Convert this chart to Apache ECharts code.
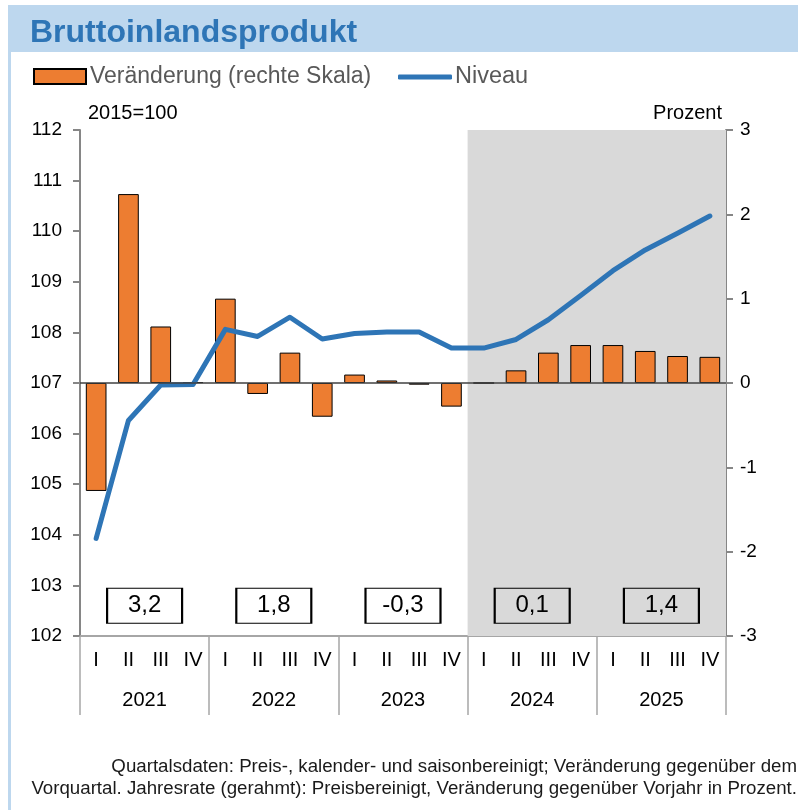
<!DOCTYPE html>
<html>
<head>
<meta charset="utf-8">
<script src="https://cdn.jsdelivr.net/npm/echarts@6/dist/echarts.min.js"></script>
<style>
html,body{margin:0;padding:0;background:#fff;}
#chart{width:798px;height:810px;}
</style>
</head>
<body>
<div id="chart"></div>
<script>
// ---- data ----
var years = ['2021', '2022', '2023', '2024', '2025'];
var quarterNames = ['I', 'II', 'III', 'IV'];
// quarterly change vs previous quarter, percent (right axis)
var changeValues = [-1.28, 2.24, 0.67, 0.01, 1.00, -0.13, 0.36, -0.40, 0.10, 0.03, -0.02, -0.28, 0.00, 0.15, 0.36, 0.45, 0.45, 0.38, 0.32, 0.31];
// level, 2015=100 (left axis)
var levelValues = [103.93, 106.26, 106.96, 106.97, 108.06, 107.92, 108.30, 107.87, 107.98, 108.01, 108.01, 107.69, 107.69, 107.86, 108.25, 108.73, 109.22, 109.63, 109.96, 110.30];
// annual rates (framed)
var annualRates = [3.2, 1.8, -0.3, 0.1, 1.4];
var forecastStartQuarter = 12; // 2024 I
var leftTicks = [102, 112, 1];
var rightTicks = [-3, 3, 1];

var categories = [];
years.forEach(function (y) { quarterNames.forEach(function (q) { categories.push(y + '-' + q); }); });

var FONT = 'Liberation Sans, Arial, sans-serif';
var chart = echarts.init(document.getElementById('chart'), null, {renderer: 'canvas'});

var boxData = annualRates.map(function (v, i) { return [2 + 4 * i, 102.6]; });

var option = {
  animation: false,
  backgroundColor: '#ffffff',
  title: {
    text: 'Bruttoinlandsprodukt',
    left: 25, top: 12,
    textStyle: {fontFamily: FONT, fontSize: 32, fontWeight: 'bold', color: '#2e75b6'}
  },
  legend: [
    {
      left: 33, top: 65, padding: 0,
      itemWidth: 52, itemHeight: 15,
      data: [{name: 'Veränderung (rechte Skala)', icon: 'rect'}],
      textStyle: {fontFamily: FONT, fontSize: 23, color: '#595959', padding: [0, 0, 0, -1]}
    },
    {
      left: 398, top: 65, padding: 0,
      itemWidth: 54, itemHeight: 5,
      data: [{name: 'Niveau', icon: 'roundRect'}],
      textStyle: {fontFamily: FONT, fontSize: 23.5, color: '#595959', padding: [0, 0, 0, -2]}
    }
  ],
  graphic: [
    {type: 'rect', z: -10, shape: {x: 9, y: 5, width: 800, height: 47}, style: {fill: '#bdd7ee'}},
    {type: 'rect', z: -10, shape: {x: 8, y: 5, width: 3, height: 810}, style: {fill: '#bdd7ee'}},
    {type: 'text', style: {
      text: 'Quartalsdaten: Preis-, kalender- und saisonbereinigt; Veränderung gegenüber dem\nVorquartal. Jahresrate (gerahmt): Preisbereinigt, Veränderung gegenüber Vorjahr in Prozent.',
      x: 797, y: 756, textAlign: 'right', fontFamily: FONT, fontSize: 18.7, lineHeight: 22, fill: '#1a1a1a'}}
  ],
  grid: {left: 80, right: 72, top: 130, bottom: 174},
  xAxis: [
    {
      type: 'category', data: categories, position: 'bottom',
      axisLine: {onZero: false, lineStyle: {color: '#a6a6a6', width: 2}},
      axisTick: {show: false},
      axisLabel: {margin: 14, fontFamily: FONT, fontSize: 20, color: '#000', interval: 0,
        formatter: function (v) { return v.split('-')[1]; }}
    },
    {
      type: 'category', data: years, position: 'bottom',
      axisLine: {show: false, onZero: false},
      axisTick: {show: true, length: 79, interval: 0, lineStyle: {color: '#a6a6a6', width: 1.5}},
      axisLabel: {margin: 54, fontFamily: FONT, fontSize: 20, color: '#000', interval: 0}
    },
    {type: 'value', min: 0, max: 20, show: false}
  ],
  yAxis: [
    {
      type: 'value', min: leftTicks[0], max: leftTicks[1], interval: leftTicks[2], position: 'left',
      name: '2015=100', nameLocation: 'end', nameGap: 7,
      nameTextStyle: {fontFamily: FONT, fontSize: 20, color: '#000', align: 'left', padding: [0, 0, 0, 8]},
      axisLine: {show: true, lineStyle: {color: '#868686', width: 2}},
      axisTick: {show: true, length: 7, lineStyle: {color: '#868686', width: 2}},
      axisLabel: {margin: 18, fontFamily: FONT, fontSize: 19, color: '#000'},
      splitLine: {show: false}
    },
    {
      type: 'value', min: rightTicks[0], max: rightTicks[1], interval: rightTicks[2], position: 'right',
      name: 'Prozent', nameLocation: 'end', nameGap: 7,
      nameTextStyle: {fontFamily: FONT, fontSize: 20, color: '#000', align: 'right', padding: [0, 4, 0, 0]},
      axisLine: {show: true, lineStyle: {color: '#868686', width: 2}},
      axisTick: {show: true, length: 7, lineStyle: {color: '#868686', width: 2}},
      axisLabel: {margin: 14, fontFamily: FONT, fontSize: 19, color: '#000'},
      splitLine: {show: false}
    }
  ],
  series: [
    {
      name: 'forecast', type: 'line', xAxisIndex: 2, yAxisIndex: 0, z: 0, data: [],
      silent: true,
      markArea: {silent: true, itemStyle: {color: '#d9d9d9'},
        data: [[{xAxis: forecastStartQuarter}, {xAxis: categories.length}]]}
    },
    {
      name: 'Veränderung (rechte Skala)', type: 'bar', xAxisIndex: 0, yAxisIndex: 1,
      data: changeValues, barWidth: '64%', z: 2,
      itemStyle: {color: '#ed7d31', borderColor: '#000', borderWidth: 1},
      markLine: {silent: true, symbol: 'none', label: {show: false},
        lineStyle: {color: '#404040', width: 1.5, type: 'solid'},
        data: [{yAxis: 0}]}
    },
    {
      name: 'Niveau', type: 'line', xAxisIndex: 0, yAxisIndex: 0, z: 3,
      data: levelValues, symbol: 'none', smooth: false,
      lineStyle: {color: '#2e75b6', width: 5, cap: 'round', join: 'round'},
      itemStyle: {color: '#2e75b6'}
    },
    {
      name: 'annual', type: 'scatter', xAxisIndex: 2, yAxisIndex: 0, z: 4, silent: true,
      data: boxData, symbol: 'rect', symbolSize: [75, 35],
      itemStyle: {color: 'rgba(0,0,0,0)', borderColor: '#000', borderWidth: 1.5, opacity: 1},
      label: {show: true, position: 'inside', fontFamily: FONT, fontSize: 24, color: '#000',
        formatter: function (p) { return annualRates[p.dataIndex].toFixed(1).replace('.', ','); }}
    }
  ]
};
chart.setOption(option);
</script>
</body>
</html>
